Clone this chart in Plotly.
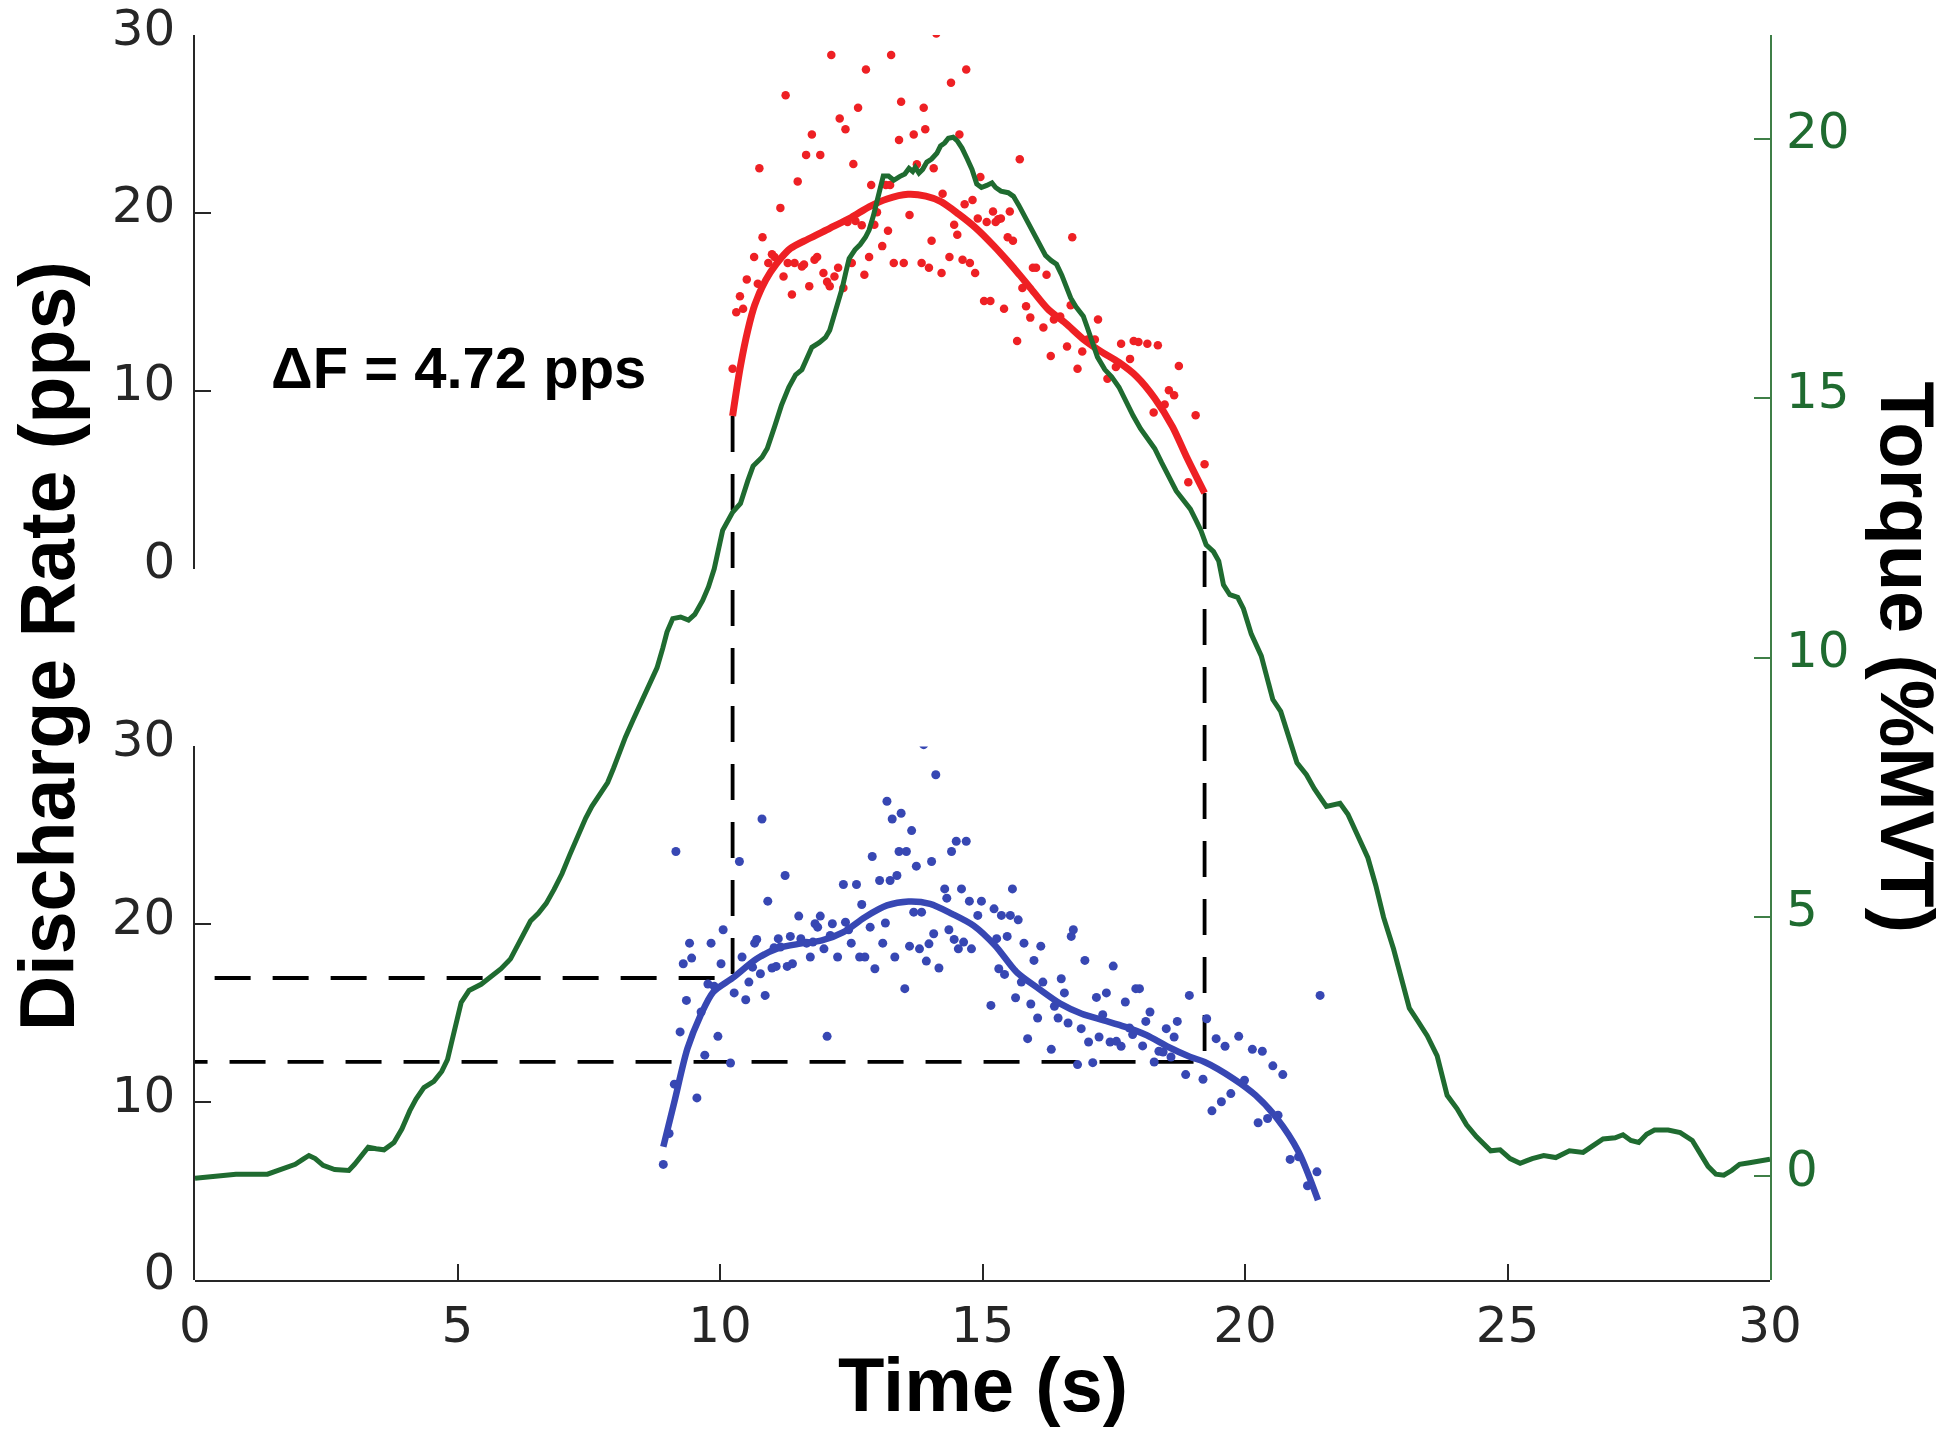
import plotly.graph_objects as go

# ---------------- data ----------------
time_ticks = [0, 5, 10, 15, 20, 25, 30]
rate_ticks = [0, 10, 20, 30]
torque_ticks = [0, 5, 10, 15, 20]

torque_t = [0.0, 0.33, 0.78, 1.38, 1.61, 1.91, 2.06, 2.17, 2.29, 2.44, 2.66, 2.93, 3.04, 3.19, 3.30,
            3.45, 3.60, 3.79, 3.94, 4.09, 4.21, 4.36, 4.55, 4.70, 4.81, 4.88, 4.96, 5.07, 5.22, 5.45,
            5.64, 5.83, 6.01, 6.16, 6.28, 6.39, 6.54, 6.69, 6.84, 6.99, 7.14, 7.29, 7.44, 7.56, 7.71,
            7.86, 7.97, 8.08, 8.20, 8.35, 8.50, 8.65, 8.80, 8.91, 8.99, 9.10, 9.25, 9.40, 9.52, 9.67,
            9.78, 9.89, 10.05, 10.24, 10.39, 10.53, 10.63, 10.80, 10.90, 11.04, 11.17, 11.31, 11.44,
            11.56, 11.65, 11.75, 11.89, 12.01, 12.09, 12.19, 12.26, 12.33, 12.40, 12.46, 12.57, 12.67,
            12.77, 12.84, 12.92, 12.99, 13.04, 13.11, 13.21, 13.31, 13.42, 13.52, 13.60, 13.67, 13.72,
            13.79, 13.86, 13.94, 14.03, 14.13, 14.20, 14.28, 14.35, 14.44, 14.52, 14.61, 14.71, 14.80,
            14.89, 14.98, 15.08, 15.18, 15.25, 15.35, 15.49, 15.59, 15.69, 15.80, 15.90, 16.00, 16.10,
            16.20, 16.31, 16.41, 16.51, 16.58, 16.68, 16.78, 16.92, 16.99, 17.09, 17.19, 17.33, 17.46,
            17.60, 17.73, 17.87, 18.01, 18.14, 18.28, 18.41, 18.55, 18.69, 18.82, 18.96, 19.06, 19.16,
            19.26, 19.40, 19.50, 19.59, 19.71, 19.86, 19.97, 20.12, 20.31, 20.42, 20.53, 20.68, 20.83,
            20.99, 21.17, 21.32, 21.55, 21.81, 21.96, 22.19, 22.34, 22.49, 22.64, 22.83, 22.98, 23.13,
            23.28, 23.47, 23.66, 23.85, 24.04, 24.22, 24.41, 24.68, 24.86, 25.05, 25.24, 25.47, 25.69,
            25.92, 26.18, 26.44, 26.63, 26.82, 27.05, 27.20, 27.35, 27.50, 27.65, 27.80, 28.06, 28.29,
            28.52, 28.67, 28.82, 28.97, 29.12, 29.27, 29.42, 29.61, 29.80, 30.00]
torque_pct = [-0.04, 0.00, 0.04, 0.04, 0.13, 0.23, 0.33, 0.40, 0.34, 0.21, 0.13, 0.11, 0.23, 0.43, 0.56,
              0.53, 0.51, 0.65, 0.91, 1.26, 1.49, 1.71, 1.83, 2.02, 2.25, 2.55, 2.93, 3.35, 3.58, 3.70,
              3.85, 4.00, 4.19, 4.46, 4.69, 4.92, 5.07, 5.26, 5.53, 5.83, 6.20, 6.56, 6.90, 7.13, 7.36,
              7.59, 7.86, 8.16, 8.47, 8.81, 9.15, 9.46, 9.80, 10.18, 10.49, 10.75, 10.78, 10.72, 10.83,
              11.10, 11.36, 11.71, 12.45, 12.80, 12.97, 13.41, 13.69, 13.86, 14.03, 14.45, 14.86, 15.21,
              15.45, 15.55, 15.76, 15.98, 16.07, 16.17, 16.31, 16.65, 16.86, 17.13, 17.44, 17.69, 17.86,
              17.96, 18.10, 18.24, 18.51, 18.79, 19.03, 19.28, 19.28, 19.20, 19.27, 19.32, 19.43, 19.37,
              19.45, 19.34, 19.41, 19.55, 19.61, 19.72, 19.86, 19.92, 20.01, 20.03, 19.96, 19.82, 19.61,
              19.41, 19.13, 19.06, 19.10, 19.15, 19.06, 18.99, 18.96, 18.89, 18.72, 18.51, 18.31, 18.10,
              17.93, 17.75, 17.65, 17.58, 17.37, 17.17, 16.93, 16.76, 16.58, 16.38, 16.07, 15.79, 15.55,
              15.41, 15.21, 14.93, 14.66, 14.41, 14.21, 14.03, 13.76, 13.48, 13.21, 13.04, 12.86, 12.66,
              12.45, 12.17, 12.04, 11.86, 11.40, 11.21, 11.16, 10.94, 10.45, 10.03, 9.65, 9.19, 8.96,
              8.50, 7.97, 7.74, 7.47, 7.13, 7.19, 6.98, 6.44, 6.14, 5.61, 4.99, 4.38, 3.77, 3.24, 3.01,
              2.71, 2.32, 1.56, 1.30, 0.99, 0.76, 0.49, 0.51, 0.34, 0.25, 0.34, 0.40, 0.36, 0.49, 0.46,
              0.59, 0.72, 0.74, 0.80, 0.69, 0.65, 0.81, 0.89, 0.89, 0.84, 0.69, 0.46, 0.19, 0.04, 0.02,
              0.11, 0.23, 0.26, 0.30, 0.33]

# test unit (top panel, red)
test_t = [10.24, 10.31, 10.38, 10.44, 10.51, 10.65, 10.72, 10.75, 10.81, 10.92, 10.99, 11.04, 11.15,
          11.21, 11.25, 11.29, 11.37, 11.42, 11.48, 11.56, 11.60, 11.64, 11.70, 11.75, 11.80, 11.85,
          11.91, 11.97, 12.04, 12.09, 12.12, 12.18, 12.25, 12.28, 12.35, 12.39, 12.43, 12.51, 12.54,
          12.58, 12.63, 12.70, 12.75, 12.78, 12.84, 12.88, 12.94, 12.99, 13.09, 13.16, 13.20, 13.24,
          13.26, 13.31, 13.41, 13.45, 13.50, 13.61, 13.69, 13.75, 13.84, 13.88, 13.91, 13.98, 14.03,
          14.07, 14.12, 14.22, 14.24, 14.37, 14.40, 14.46, 14.52, 14.56, 14.62, 14.66, 14.69, 14.76,
          14.81, 14.86, 14.91, 14.96, 15.03, 15.08, 15.15, 15.20, 15.25, 15.30, 15.35, 15.41, 15.48,
          15.52, 15.58, 15.66, 15.71, 15.76, 15.83, 15.91, 15.96, 16.02, 16.16, 16.22, 16.30, 16.36,
          16.48, 16.61, 16.68, 16.71, 16.81, 16.90, 17.00, 17.14, 17.20, 17.38, 17.54, 17.64, 17.81,
          17.88, 17.97, 18.14, 18.26, 18.34, 18.47, 18.55, 18.65, 18.74, 18.92, 19.06, 19.23]
test_rate = [11.23, 14.41, 15.31, 14.61, 16.26, 17.52, 16.02, 22.51, 18.63, 17.18, 17.67, 17.52, 20.28,
             16.42, 26.61, 17.18, 15.41, 17.18, 21.77, 16.98, 17.10, 23.26, 15.88, 24.40, 17.36, 17.52,
             23.26, 16.62, 16.12, 15.88, 28.87, 16.42, 16.92, 25.31, 15.78, 24.70, 19.48, 17.18, 22.75,
             19.54, 25.91, 19.31, 16.52, 28.06, 17.52, 21.57, 19.33, 20.04, 18.13, 21.57, 18.99, 21.57,
             28.87, 17.18, 24.10, 26.25, 17.18, 19.88, 24.40, 22.73, 17.18, 25.91, 24.70, 16.92, 18.43,
             22.51, 30.09, 16.62, 21.08, 17.52, 27.32, 19.33, 18.77, 24.40, 17.36, 20.48, 28.06, 17.18,
             20.72, 16.62, 19.68, 22.01, 15.05, 19.48, 15.05, 20.08, 19.48, 19.64, 19.68, 14.61, 18.63,
             20.08, 18.43, 12.80, 23.01, 15.78, 14.75, 14.11, 16.92, 16.92, 13.56, 16.52, 11.95, 14.01,
             14.17, 12.48, 14.81, 18.63, 11.23, 12.20, 12.88, 12.88, 14.01, 10.67, 11.33, 12.64, 11.79,
             12.80, 12.74, 12.64, 8.78, 12.56, 9.22, 10.02, 9.74, 11.39, 4.86, 8.62, 5.86]
test_fit_t = [10.24, 10.39, 10.53, 10.66, 10.87, 11.07, 11.34, 11.68, 12.09, 12.50, 12.84, 13.18, 13.58,
              13.92, 14.20, 14.54, 14.88, 15.22, 15.56, 15.90, 16.24, 16.58, 16.92, 17.26, 17.60, 17.94,
              18.28, 18.62, 18.89, 19.23]
test_fit_rate = [8.58, 11.39, 13.40, 14.81, 16.22, 17.12, 17.99, 18.53, 19.13, 19.74, 20.34, 20.78, 21.04,
                 20.94, 20.64, 19.94, 19.13, 18.13, 17.02, 15.82, 14.61, 13.80, 12.90, 12.20, 11.59, 10.79,
                 9.58, 7.97, 6.26, 4.25]

# control unit (bottom panel, blue)
ctrl_t = [8.92, 9.03, 9.13, 9.16, 9.24, 9.30, 9.36, 9.42, 9.46, 9.56, 9.64, 9.71, 9.77, 9.83, 9.89, 9.96,
          10.02, 10.06, 10.20, 10.27, 10.37, 10.42, 10.49, 10.55, 10.62, 10.66, 10.70, 10.77, 10.80,
          10.86, 10.91, 10.99, 11.03, 11.07, 11.11, 11.15, 11.24, 11.28, 11.34, 11.38, 11.50, 11.54,
          11.65, 11.72, 11.77, 11.81, 11.86, 11.91, 11.98, 12.04, 12.10, 12.14, 12.24, 12.35, 12.39,
          12.45, 12.50, 12.60, 12.66, 12.70, 12.76, 12.86, 12.90, 12.95, 13.04, 13.10, 13.15, 13.18,
          13.24, 13.28, 13.33, 13.37, 13.41, 13.45, 13.52, 13.55, 13.61, 13.65, 13.69, 13.74, 13.80,
          13.84, 13.88, 13.93, 13.98, 14.03, 14.07, 14.11, 14.17, 14.28, 14.32, 14.36, 14.41, 14.46,
          14.50, 14.54, 14.60, 14.64, 14.69, 14.75, 14.79, 14.91, 14.98, 15.16, 15.22, 15.27, 15.31,
          15.36, 15.42, 15.47, 15.53, 15.57, 15.63, 15.68, 15.74, 15.79, 15.86, 15.92, 15.98, 16.05,
          16.11, 16.15, 16.31, 16.37, 16.44, 16.50, 16.56, 16.63, 16.69, 16.73, 16.81, 16.88, 16.95,
          17.02, 17.10, 17.17, 17.22, 17.29, 17.36, 17.43, 17.49, 17.55, 17.64, 17.72, 17.80, 17.86,
          17.92, 17.99, 18.05, 18.11, 18.19, 18.27, 18.36, 18.44, 18.50, 18.59, 18.65, 18.71, 18.87,
          18.94, 19.20, 19.27, 19.37, 19.45, 19.55, 19.62, 19.73, 19.88, 19.99, 20.14, 20.25, 20.33,
          20.43, 20.53, 20.63, 20.72, 20.86, 21.02, 21.19, 21.37, 21.43]
ctrl_rate = [6.50, 8.24, 11.01, 24.09, 13.95, 17.78, 15.72, 18.94, 18.10, 10.24, 15.07, 12.64, 16.64,
             18.94, 16.51, 13.70, 17.78, 19.69, 12.20, 16.14, 23.53, 18.16, 15.76, 16.75, 17.59, 18.94,
             19.15, 17.22, 25.92, 16.00, 21.30, 17.54, 18.68, 17.63, 19.19, 18.72, 22.74, 17.63, 19.32,
             17.78, 20.46, 19.19, 18.94, 18.16, 19.00, 20.03, 19.84, 20.46, 18.62, 13.70, 19.37, 20.03,
             18.16, 22.24, 20.12, 19.69, 18.94, 22.24, 18.16, 21.11, 18.16, 19.84, 23.81, 17.50, 22.46,
             18.94, 20.07, 26.92, 22.46, 25.92, 18.16, 22.74, 24.09, 26.24, 16.38, 24.09, 18.77, 25.27,
             20.68, 23.27, 18.62, 20.68, 30.10, 17.93, 18.90, 23.53, 19.47, 28.41, 17.54, 21.99, 21.47,
             19.69, 24.09, 19.15, 24.67, 18.62, 21.99, 19.00, 24.67, 21.30, 18.62, 20.50, 21.30, 15.44,
             20.87, 19.19, 17.50, 20.50, 17.18, 19.32, 20.50, 21.99, 15.87, 20.25, 16.75, 18.94, 13.57,
             15.52, 17.97, 14.73, 18.77, 16.75, 12.97, 15.39, 14.73, 16.94, 16.14, 14.45, 19.32, 19.69,
             12.11, 14.13, 17.97, 13.38, 12.22, 15.89, 13.66, 14.92, 16.14, 13.38, 17.65, 13.42, 13.14,
             15.63, 14.17, 13.80, 16.38, 16.38, 13.16, 14.54, 15.07, 12.26, 12.86, 12.82, 14.13, 12.54,
             13.66, 14.54, 11.55, 16.00, 11.29, 14.69, 9.51, 13.57, 10.02, 13.14, 10.48, 13.70, 11.23,
             12.97, 8.84, 12.86, 9.08, 12.04, 9.27, 11.55, 6.78, 6.93, 5.30, 6.08, 16.00]
ctrl_fit_t = [8.92, 9.13, 9.38, 9.63, 9.87, 10.24, 10.70, 11.11, 11.53, 11.94, 12.35, 12.76, 13.18, 13.59,
              14.00, 14.42, 14.83, 15.24, 15.65, 16.07, 16.48, 16.89, 17.31, 17.72, 18.13, 18.54, 18.96,
              19.23, 19.78, 20.20, 20.61, 21.02, 21.39]
ctrl_fit_rate = [7.49, 10.01, 13.01, 14.88, 16.19, 16.98, 18.06, 18.66, 18.91, 19.09, 19.56, 20.40, 21.06,
                 21.28, 21.15, 20.59, 19.93, 18.81, 17.31, 16.38, 15.54, 14.97, 14.60, 14.23, 13.76, 13.10,
                 12.54, 12.26, 11.32, 10.39, 9.08, 7.21, 4.49]

# recruitment / derecruitment markers (delta-F)
recruit_time = 10.24
derecruit_time = 19.23
test_rate_at_recruit = 8.58
test_rate_at_derecruit = 4.25
ctrl_rate_at_recruit = 16.98
ctrl_rate_at_derecruit = 12.26
delta_f = 4.72

# stacked layout: each panel spans 30 pps, with a 10 pps gap between the panels
PANEL_SPAN = 30
PANEL_GAP = 10
TOP_OFFSET = PANEL_SPAN + PANEL_GAP
STACK_TOTAL = 2 * PANEL_SPAN + PANEL_GAP

# ---------------- style ----------------
RED = "#EE2024"
BLUE = "#3747B3"
GREEN = "#1F6B30"
AXIS_GREEN = "#3f7f47"
INK = "#262626"
TICK_FONT = dict(family="DejaVu Sans", size=50, color=INK)
TITLE_FAMILY = "Liberation Sans"

fig = go.Figure()

# dashed delta-F guide lines (stacked coordinate system)
fig.add_trace(go.Scatter(
    x=[recruit_time, recruit_time, 0],
    y=[TOP_OFFSET + test_rate_at_recruit, ctrl_rate_at_recruit, ctrl_rate_at_recruit],
    mode="lines", line=dict(color="black", width=3.8, dash="36px,22px"),
    xaxis="x", yaxis="y", hoverinfo="skip", showlegend=False))
fig.add_trace(go.Scatter(
    x=[derecruit_time, derecruit_time, 0],
    y=[TOP_OFFSET + test_rate_at_derecruit, ctrl_rate_at_derecruit, ctrl_rate_at_derecruit],
    mode="lines", line=dict(color="black", width=3.8, dash="36px,22px"),
    xaxis="x", yaxis="y", hoverinfo="skip", showlegend=False))

# control unit (bottom)
fig.add_trace(go.Scatter(x=ctrl_t, y=ctrl_rate, mode="markers",
                         marker=dict(color=BLUE, size=9), xaxis="x", yaxis="y2", showlegend=False))
fig.add_trace(go.Scatter(x=ctrl_fit_t, y=ctrl_fit_rate, mode="lines",
                         line=dict(color=BLUE, width=6.5, shape="spline", smoothing=0.8),
                         xaxis="x", yaxis="y2", showlegend=False))

# test unit (top)
fig.add_trace(go.Scatter(x=test_t, y=test_rate, mode="markers",
                         marker=dict(color=RED, size=8.5), xaxis="x", yaxis="y3", showlegend=False))
fig.add_trace(go.Scatter(x=test_fit_t, y=test_fit_rate, mode="lines",
                         line=dict(color=RED, width=7, shape="spline", smoothing=0.8),
                         xaxis="x", yaxis="y3", showlegend=False))

# torque
fig.add_trace(go.Scatter(x=torque_t, y=torque_pct, mode="lines",
                         line=dict(color=GREEN, width=5), xaxis="x", yaxis="y4", showlegend=False))

rate_axis = dict(range=[0, PANEL_SPAN], tickvals=rate_ticks, ticks="inside", ticklen=16, tickwidth=1.5,
                 tickcolor=INK, showline=True, linecolor=INK, linewidth=1.5, showgrid=False,
                 zeroline=False, tickfont=TICK_FONT, anchor="x", side="left", automargin=False,
                 ticklabelstandoff=8, ticklabelshift=-8, ticklabeloverflow="allow")

fig.update_layout(
    width=1950, height=1433,
    margin=dict(l=187, r=188, t=27, b=161),
    paper_bgcolor="white", plot_bgcolor="rgba(0,0,0,0)",
    xaxis=dict(range=[0, 30], tickvals=time_ticks, ticks="inside", ticklen=16, tickwidth=1.5,
               tickcolor=INK, showline=True, linecolor=INK, linewidth=1.5, showgrid=False,
               zeroline=False, tickfont=TICK_FONT, anchor="y", automargin=False, ticklabelstandoff=0,
               ticklabeloverflow="allow"),
    yaxis=dict(range=[0, STACK_TOTAL], domain=[0, 1], visible=False, showgrid=False, zeroline=False),
    yaxis2=dict(domain=[0, PANEL_SPAN / STACK_TOTAL], **rate_axis),
    yaxis3=dict(domain=[TOP_OFFSET / STACK_TOTAL, 1], **rate_axis),
    yaxis4=dict(range=[-2, 22], domain=[0, 1], anchor="x", side="right", tickvals=torque_ticks,
                ticks="inside", ticklen=16, tickwidth=1.5, tickcolor=AXIS_GREEN, showline=True,
                linecolor=AXIS_GREEN, linewidth=2, showgrid=False, zeroline=False,
                tickfont=dict(family="DejaVu Sans", size=50, color=GREEN), automargin=False,
                ticklabelstandoff=4, ticklabelshift=-8, ticklabeloverflow="allow"),
    showlegend=False,
)

fig.add_annotation(text="<b>Discharge Rate (pps)</b>", xref="paper", yref="paper",
                   x=-0.094, y=0.509, xanchor="center", yanchor="middle", textangle=-90,
                   showarrow=False, font=dict(family=TITLE_FAMILY, size=77, color="black"))
fig.add_annotation(text="<b>Torque (%MVT)</b>", xref="paper", yref="paper",
                   x=1.087, y=0.500, xanchor="center", yanchor="middle", textangle=90,
                   showarrow=False, font=dict(family=TITLE_FAMILY, size=76, color="black"))
fig.add_annotation(text="<b>Time (s)</b>", xref="paper", yref="paper",
                   x=0.5, y=-0.084, xanchor="center", yanchor="middle",
                   showarrow=False, font=dict(family=TITLE_FAMILY, size=76, color="black"))
fig.add_annotation(text=f"<b>ΔF = {delta_f:.2f} pps</b>", xref="paper", yref="paper",
                   x=0.167, y=0.733, xanchor="center", yanchor="middle",
                   showarrow=False, font=dict(family=TITLE_FAMILY, size=58, color="black"))

fig.write_html("out.html")
